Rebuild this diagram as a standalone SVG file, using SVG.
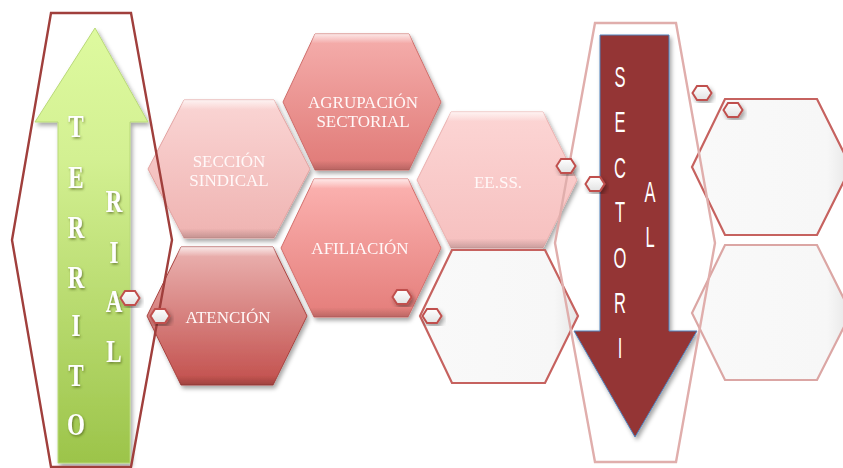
<svg xmlns="http://www.w3.org/2000/svg" width="843" height="468" viewBox="0 0 843 468">
<style>
.lbl{font-family:"Liberation Serif","DejaVu Serif",serif;font-size:17px;fill:#fff8f8;text-anchor:middle}
.tl{font-family:"Liberation Serif","DejaVu Serif",serif;font-weight:bold;font-size:32px;fill:#ffffff;text-anchor:middle}
.sl{font-family:"Liberation Sans","DejaVu Sans",sans-serif;font-size:30px;fill:#ffffff;text-anchor:middle}
.bev{fill:url(#bevel)}
.empty{fill:url(#gEmpty);stroke:#c6625f;stroke-width:2.2}
</style>
<defs>
<filter id="sh" x="-20%" y="-20%" width="140%" height="140%"><feDropShadow dx="2" dy="3" stdDeviation="2" flood-color="#000" flood-opacity="0.35"/></filter>
<filter id="tsh" x="-30%" y="-30%" width="160%" height="160%"><feDropShadow dx="1" dy="1.5" stdDeviation="0.8" flood-color="#3a4a10" flood-opacity="0.6"/></filter>
<linearGradient id="bevel" x1="0" y1="0" x2="0" y2="1">
<stop offset="0" stop-color="#fff" stop-opacity="0.7"/><stop offset="0.07" stop-color="#fff" stop-opacity="0"/>
<stop offset="0.93" stop-color="#000" stop-opacity="0"/><stop offset="1" stop-color="#000" stop-opacity="0.18"/>
</linearGradient>
<linearGradient id="gSec" x1="0" y1="0" x2="0" y2="1"><stop offset="0" stop-color="#fad5d4"/><stop offset="1" stop-color="#efb3b1"/></linearGradient>
<linearGradient id="gAgr" x1="0" y1="0" x2="0" y2="1"><stop offset="0" stop-color="#f5aeac"/><stop offset="1" stop-color="#e07a77"/></linearGradient>
<linearGradient id="gAfi" x1="0" y1="0" x2="0" y2="1"><stop offset="0" stop-color="#fcb3b1"/><stop offset="1" stop-color="#e47d7a"/></linearGradient>
<linearGradient id="gAte" x1="0" y1="0" x2="0" y2="1"><stop offset="0" stop-color="#ebb3b1"/><stop offset="1" stop-color="#c24f4c"/></linearGradient>
<linearGradient id="gEes" x1="0" y1="0" x2="0" y2="1"><stop offset="0" stop-color="#fcd5d4"/><stop offset="1" stop-color="#f6c0bf"/></linearGradient>
<linearGradient id="gEmpty" x1="0" y1="0" x2="1" y2="0"><stop offset="0" stop-color="#f9f9f9"/><stop offset="0.85" stop-color="#f7f7f7"/><stop offset="1" stop-color="#e6e6e6"/></linearGradient>
<linearGradient id="gGreen" x1="0" y1="0" x2="0" y2="1"><stop offset="0" stop-color="#defa9f"/><stop offset="0.3" stop-color="#d3f092"/><stop offset="1" stop-color="#9cc44a"/></linearGradient>
<linearGradient id="gBul" x1="0" y1="0" x2="0" y2="1"><stop offset="0" stop-color="#ffffff"/><stop offset="1" stop-color="#e2e2e2"/></linearGradient>
<symbol id="bul" viewBox="-10 -8 20 16" width="20" height="16" overflow="visible">
<polygon points="-9.5,0 -5,-7 5,-7 9.5,0 5,7 -5,7" fill="url(#gBul)" stroke="#c0504d" stroke-width="2" filter="url(#sh)"/>
</symbol>
</defs>
<rect width="843" height="468" fill="#ffffff"/>

<g id="territorial-arrow">
<polygon points="95,28 148,122 130,122 130,463 58,463 58,122 35,122" fill="url(#gGreen)" stroke="#b9d978" stroke-width="1" filter="url(#sh)"/>
<g filter="url(#tsh)">
<text class="tl" transform="translate(76,137) scale(0.72,1)">T</text>
<text class="tl" transform="translate(76,188) scale(0.72,1)">E</text>
<text class="tl" transform="translate(76,238) scale(0.72,1)">R</text>
<text class="tl" transform="translate(76,288) scale(0.72,1)">R</text>
<text class="tl" transform="translate(76,336) scale(0.72,1)">I</text>
<text class="tl" transform="translate(76,386) scale(0.72,1)">T</text>
<text class="tl" transform="translate(76,435) scale(0.72,1)">O</text>
<text class="tl" transform="translate(114,212) scale(0.72,1)">R</text>
<text class="tl" transform="translate(114,263) scale(0.72,1)">I</text>
<text class="tl" transform="translate(114,312) scale(0.72,1)">A</text>
<text class="tl" transform="translate(114,362) scale(0.72,1)">L</text>
</g>
</g>

<g id="seccion-sindical" filter="url(#sh)">
<polygon points="184,100 274,100 310,169 274,238 184,238 148,169" fill="url(#gSec)" stroke="#e2a3a1" stroke-width="1"/>
<polygon class="bev" points="184,100 274,100 310,169 274,238 184,238 148,169"/>
<text class="lbl" x="229" y="167">SECCIÓN</text>
<text class="lbl" x="229" y="186">SINDICAL</text>
</g>

<g id="agrupacion-sectorial" filter="url(#sh)">
<polygon points="315,34 409,34 441,102 409,170 315,170 283,102" fill="url(#gAgr)" stroke="#cf6e6b" stroke-width="1"/>
<polygon class="bev" points="315,34 409,34 441,102 409,170 315,170 283,102"/>
<text class="lbl" x="363" y="108">AGRUPACIÓN</text>
<text class="lbl" x="363" y="127">SECTORIAL</text>
</g>

<g id="afiliacion" filter="url(#sh)">
<polygon points="314,179 408,179 441,248 408,317 314,317 281,248" fill="url(#gAfi)" stroke="#d36f6c" stroke-width="1"/>
<polygon class="bev" points="314,179 408,179 441,248 408,317 314,317 281,248"/>
<text class="lbl" x="360" y="254">AFILIACIÓN</text>
</g>

<g id="atencion" filter="url(#sh)">
<polygon points="181,247 273,247 307,316 273,385 181,385 147,316" fill="url(#gAte)" stroke="#a84441" stroke-width="1"/>
<polygon class="bev" points="181,247 273,247 307,316 273,385 181,385 147,316"/>
<text class="lbl" x="228" y="323">ATENCIÓN</text>
</g>

<g id="eess" filter="url(#sh)">
<polygon points="451,112 543,112 577,180 543,248 451,248 417,180" fill="url(#gEes)" stroke="#eab0ae" stroke-width="1"/>
<polygon class="bev" points="451,112 543,112 577,180 543,248 451,248 417,180"/>
<text class="lbl" x="498" y="188">EE.SS.</text>
</g>

<g id="empty-center">
<polygon class="empty" points="452,250 545,250 578,316 545,383 452,383 420,316"/>
</g>

<g id="sectorial-arrow">
<polygon points="600,35 669,35 669,331 697,331 635,437 574,331 600,331" fill="#943634" stroke="#4f81bd" stroke-width="1" filter="url(#sh)"/>
<text class="sl" transform="translate(620,87) scale(0.55,1)">S</text>
<text class="sl" transform="translate(620,132) scale(0.55,1)">E</text>
<text class="sl" transform="translate(620,178) scale(0.55,1)">C</text>
<text class="sl" transform="translate(620,222) scale(0.55,1)">T</text>
<text class="sl" transform="translate(620,268) scale(0.55,1)">O</text>
<text class="sl" transform="translate(620,313) scale(0.55,1)">R</text>
<text class="sl" transform="translate(620,358) scale(0.55,1)">I</text>
<text class="sl" transform="translate(650,202) scale(0.55,1)">A</text>
<text class="sl" transform="translate(650,247) scale(0.55,1)">L</text>
</g>

<g id="empty-right-top">
<polygon class="empty" points="725,99 817,99 851,167 817,235 725,235 692,167"/>
</g>
<g id="empty-right-bottom">
<polygon class="empty" style="stroke:#dba6a4" points="725,245 817,245 851,313 817,380 725,380 692,313"/>
</g>

<g id="territorial-frame">
<polygon points="51,13 131,13 172,240 131,467 51,467 12,240" fill="none" stroke="#a03f3c" stroke-width="2.4"/>
</g>
<g id="sectorial-frame">
<polygon points="595,23 676,23 715,243 676,462 595,462 555,243" fill="none" stroke="#e0aeac" stroke-width="2.4"/>
</g>

<g id="connectors"></g>

<g id="bullets">
<use href="#bul" x="120" y="290"/>
<use href="#bul" x="150" y="308"/>
<use href="#bul" x="392" y="289"/>
<use href="#bul" x="422" y="308"/>
<use href="#bul" x="556" y="158"/>
<use href="#bul" x="585" y="176"/>
<use href="#bul" x="692" y="85"/>
<use href="#bul" x="723" y="102"/>
</g>
</svg>
